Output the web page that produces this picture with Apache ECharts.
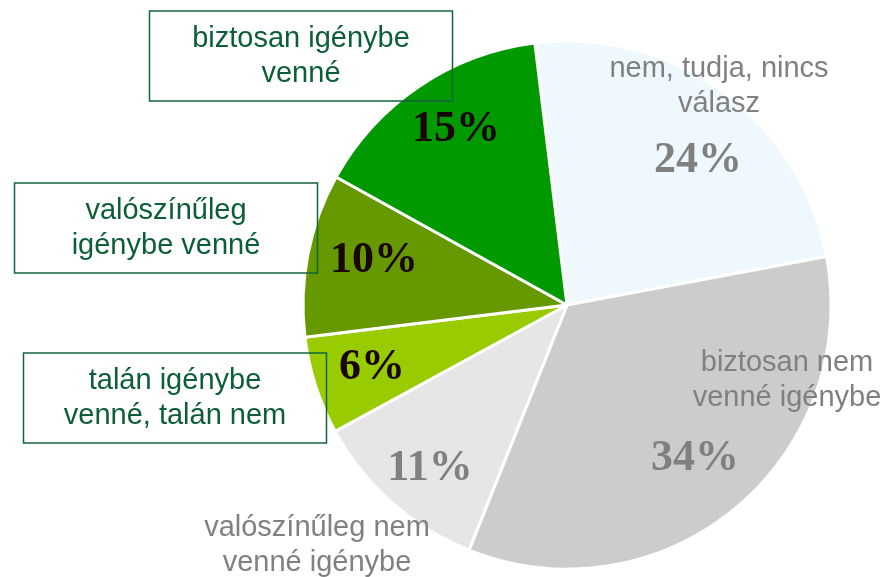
<!DOCTYPE html>
<html>
<head>
<meta charset="utf-8">
<script src="https://cdn.jsdelivr.net/npm/echarts@6/dist/echarts.min.js"></script>
<style>
  html, body { margin: 0; padding: 0; background: #fff; }
  #chart { width: 887px; height: 577px; }
</style>
</head>
<body>
<div id="chart"></div>
<script>
// slices, clockwise from the top
const categories = [
  'nem, tudja, nincs\nválasz',
  'biztosan nem\nvenné igénybe',
  'valószínűleg nem\nvenné igénybe',
  'talán igénybe\nvenné, talán nem',
  'valószínűleg\nigénybe venné',
  'biztosan igénybe\nvenné'
];
const values = [24, 34, 11, 6, 10, 15];

const sliceColors = ['#eef8fd', '#cccccc', '#e6e6e6', '#99cc00', '#669900', '#009900'];
const boxed = [false, false, false, true, true, true];
// label centres (px)
const pctPos = [[698, 161], [695, 459], [430, 469], [372, 368], [374, 261], [456, 130]];
const namePos = [[719, 86], [787, 380], [317, 545], [175, 398], [166, 228], [301, 56]];

const chart = echarts.init(document.getElementById('chart'));

const pieBase = {
  type: 'pie',
  center: [567, 305],
  radius: 264,
  startAngle: 97,
  clockwise: true,
  labelLine: { show: false },
  emphasis: { disabled: true }
};

const sliceData = categories.map((name, i) => ({
  name: name,
  value: values[i],
  itemStyle: { color: sliceColors[i] },
  label: { color: boxed[i] ? '#1a0606' : '#808080' }
}));

const nameData = categories.map((name, i) => ({
  name: name,
  value: values[i],
  label: boxed[i] ? {
    color: '#0b5e35',
    borderColor: '#12643b',
    borderWidth: 1.5,
    width: 303,
    padding: [9, 0, 11, 0]
  } : {
    color: '#808080'
  }
}));

chart.setOption({
  animation: false,
  series: [
    Object.assign({}, pieBase, {
      data: sliceData,
      itemStyle: { borderColor: '#ffffff', borderWidth: 3 },
      label: {
        show: true,
        position: 'inside',
        formatter: p => p.value + '%',
        fontFamily: 'Liberation Serif',
        fontWeight: 'bold',
        fontSize: 44
      },
      labelLayout: p => ({
        x: pctPos[p.dataIndex][0],
        y: pctPos[p.dataIndex][1],
        align: 'center',
        verticalAlign: 'middle'
      })
    }),
    Object.assign({}, pieBase, {
      data: nameData,
      silent: true,
      z: 5,
      itemStyle: { color: 'rgba(0,0,0,0)', borderWidth: 0 },
      label: {
        show: true,
        position: 'inside',
        formatter: p => p.name,
        fontFamily: 'Liberation Sans',
        fontSize: 29,
        lineHeight: 35,
        align: 'center'
      },
      labelLayout: p => ({
        x: namePos[p.dataIndex][0],
        y: namePos[p.dataIndex][1],
        align: 'center',
        verticalAlign: 'middle'
      })
    })
  ]
});
</script>
</body>
</html>
